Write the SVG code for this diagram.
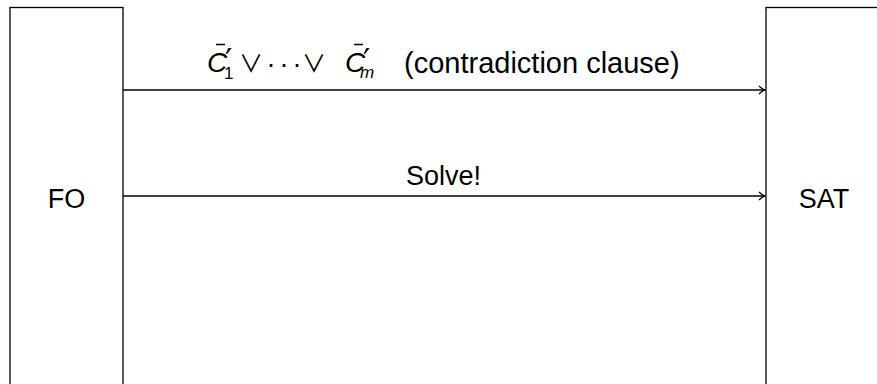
<svg xmlns="http://www.w3.org/2000/svg" width="877" height="384" viewBox="0 0 877 384">
<style>
.box{fill:#fff;stroke:#000;stroke-width:1.3}
.lbl{font-family:"Liberation Sans","DejaVu Sans",sans-serif;font-size:27px;fill:#000}
.it{font-style:italic;font-size:28px}
.sub{font-size:17px}
.pr{font-family:"DejaVu Sans",sans-serif;font-size:32px}
.or{font-family:"Noto Sans CJK JP","DejaVu Sans",sans-serif;font-size:24px}
.bar{stroke:#000;stroke-width:1.5}
.edge{stroke:#000;stroke-width:1.3;fill:none}
</style>
<defs>
<marker id="ah" viewBox="0 0 10 10" refX="9" refY="5" markerWidth="10" markerHeight="10" markerUnits="userSpaceOnUse" orient="auto">
<path d="M3,1 Q6,4 9,5 Q6,6 3,9" fill="none" stroke="#000" stroke-width="1.2"/>
</marker>
</defs>
<rect width="877" height="384" fill="#fff"/>
<g id="fo">
<rect class="box" x="10" y="7.5" width="113" height="390"/>
<text class="lbl" x="66.5" y="208" text-anchor="middle">FO</text>
</g>
<g id="sat">
<rect class="box" x="766" y="7.5" width="130" height="390"/>
<text class="lbl" x="824" y="208" text-anchor="middle">SAT</text>
</g>
<g id="connectors">
<line class="edge" x1="123" y1="90" x2="765" y2="90" marker-end="url(#ah)"/>
<line class="edge" x1="123" y1="196" x2="765" y2="196" marker-end="url(#ah)"/>
</g>
<g id="label-top">
<line class="bar" x1="216" y1="44.5" x2="225" y2="44.5"/>
<line class="bar" x1="354" y1="44.5" x2="363" y2="44.5"/>
<text class="lbl"><tspan class="it" x="207" y="72">C</tspan><tspan class="pr" x="225" y="71">′</tspan><tspan class="sub" x="224" y="79">1</tspan><tspan class="or" x="251" y="72" text-anchor="middle">∨</tspan><tspan x="271" y="73" text-anchor="middle">·</tspan><tspan x="284" y="73" text-anchor="middle">·</tspan><tspan x="297" y="73" text-anchor="middle">·</tspan><tspan class="or" x="314" y="72" text-anchor="middle">∨</tspan><tspan class="it" x="345" y="72">C</tspan><tspan class="pr" x="363" y="71">′</tspan><tspan class="sub" font-style="italic" x="360" y="77.5">m</tspan><tspan font-size="29" x="404" y="73">(contradiction clause)</tspan></text>
</g>
<g id="label-solve">
<text class="lbl" x="443.5" y="185" text-anchor="middle">Solve!</text>
</g>
</svg>
